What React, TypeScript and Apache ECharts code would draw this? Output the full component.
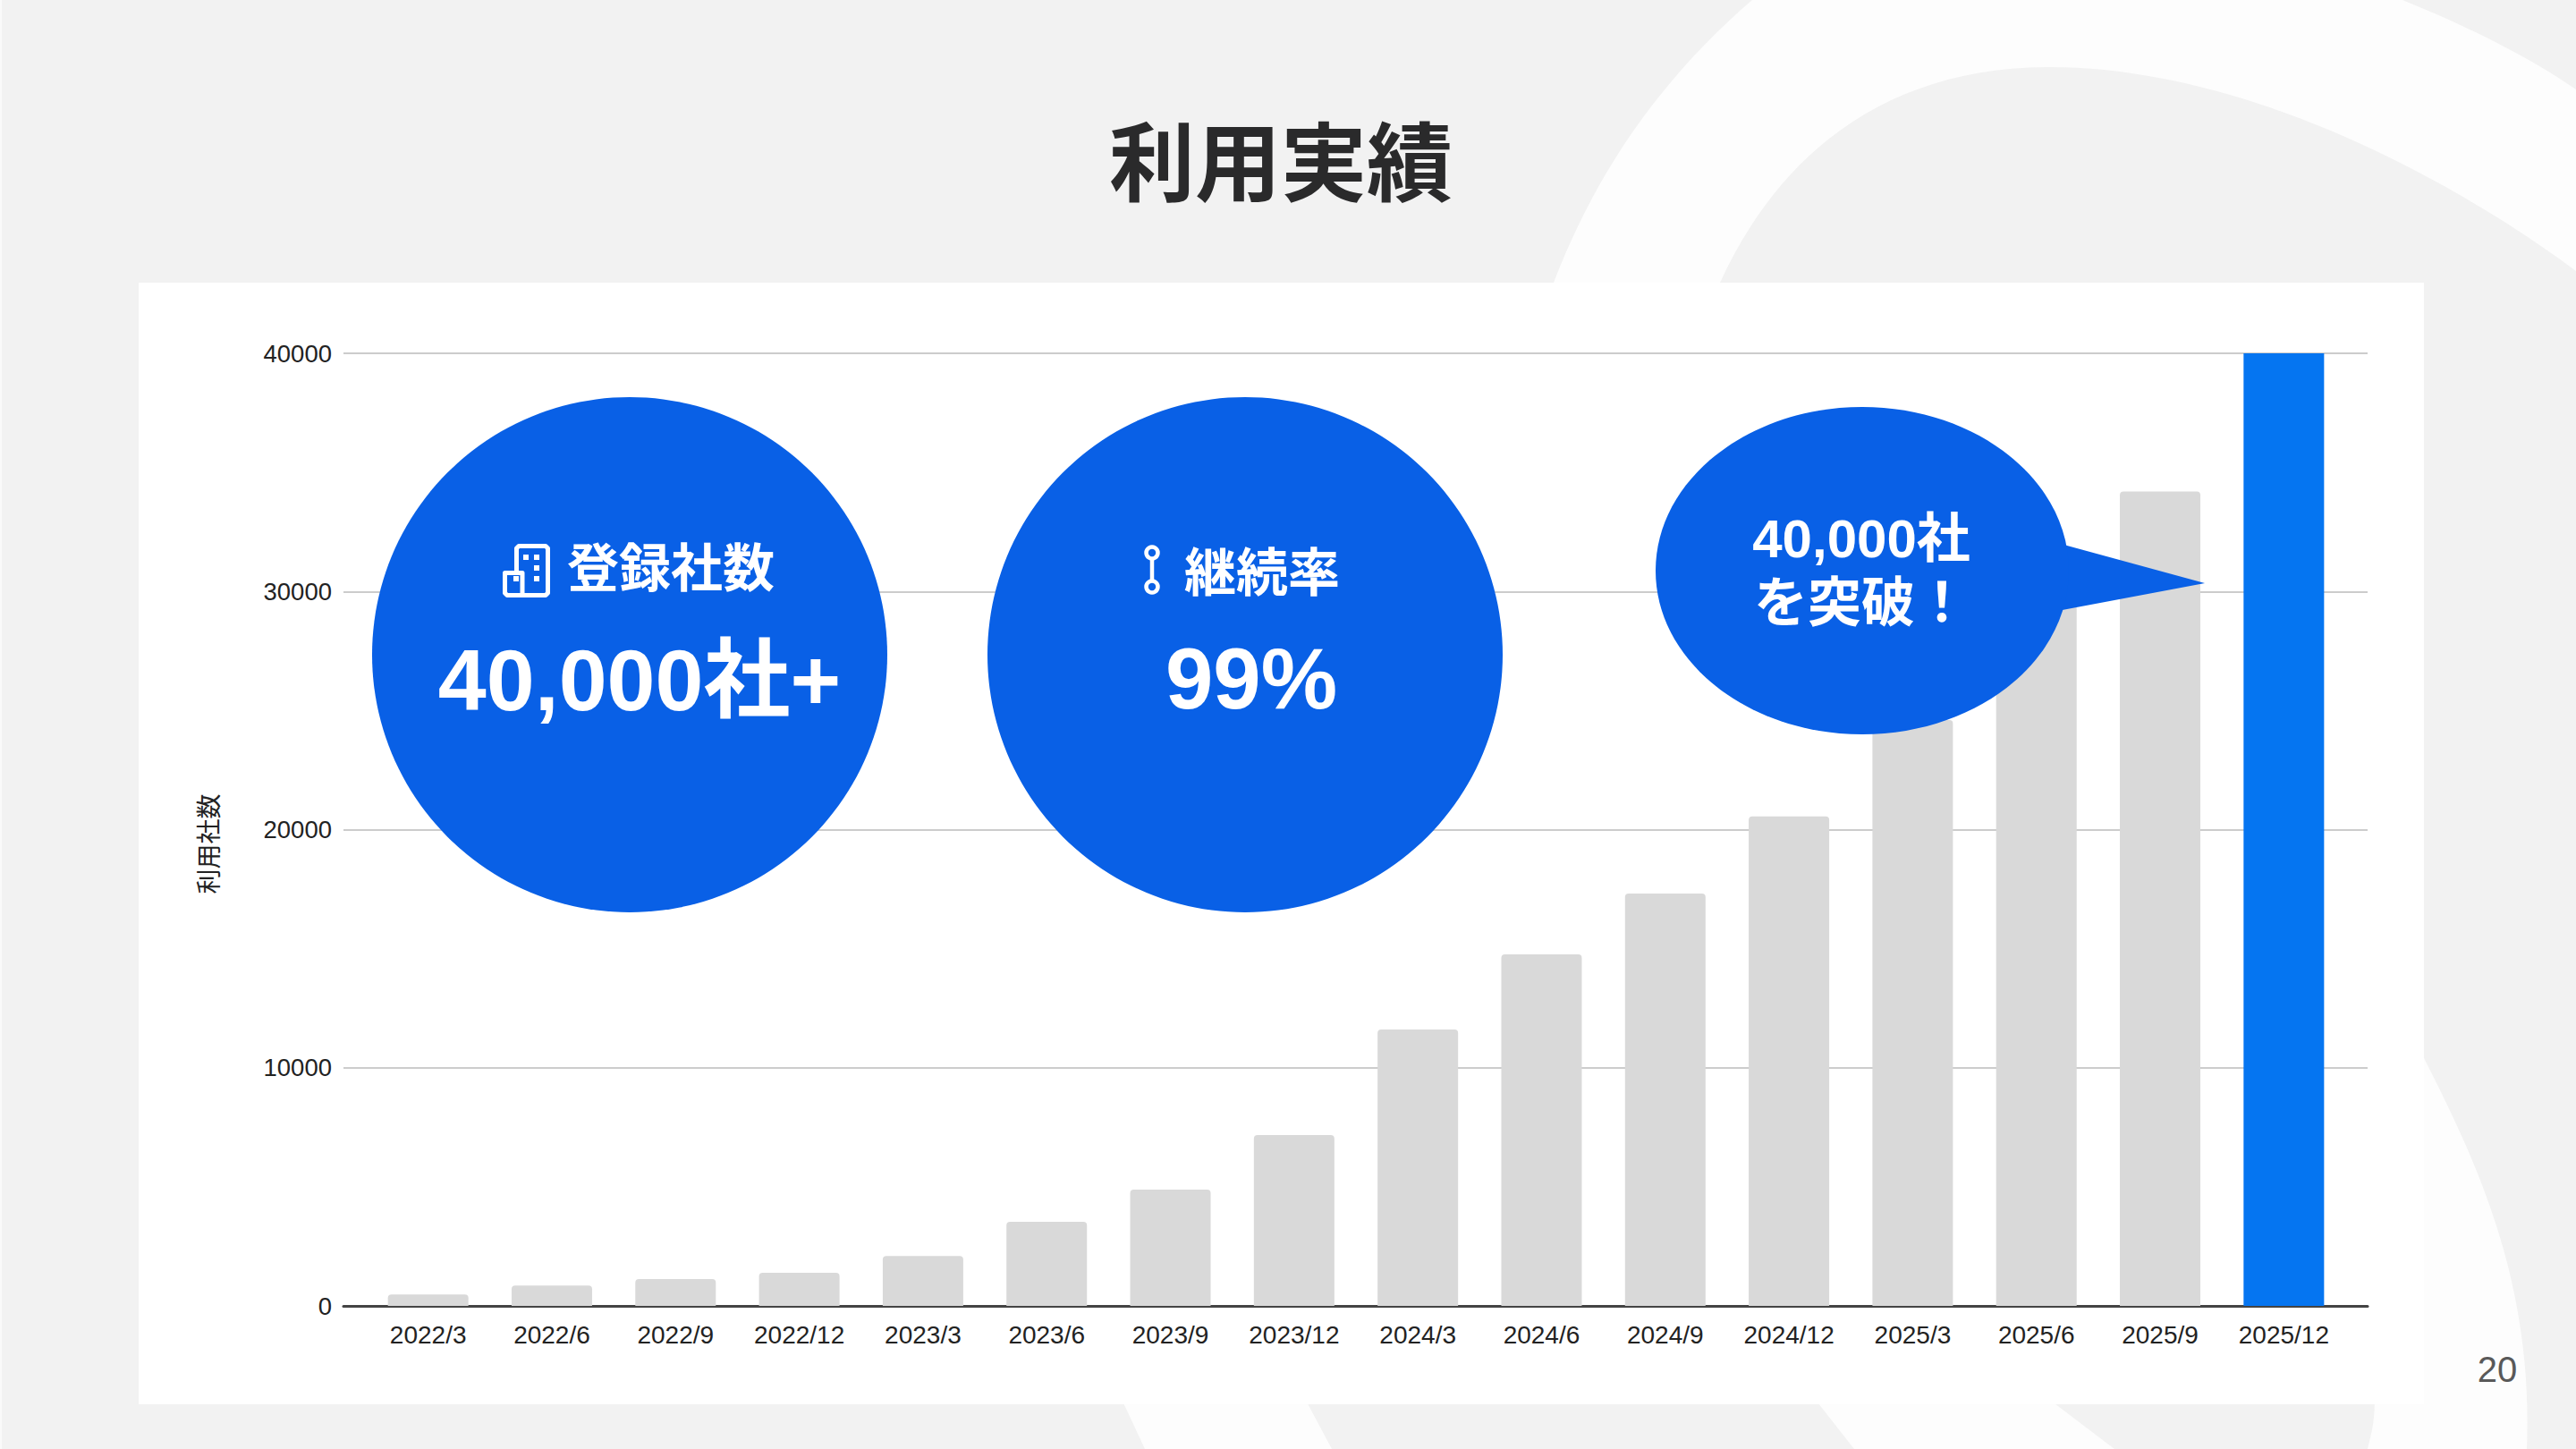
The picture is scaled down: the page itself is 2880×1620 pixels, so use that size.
import React, { useEffect, useRef } from "react";
import * as echarts from "echarts";

const categories = ["2022/3","2022/6","2022/9","2022/12","2023/3","2023/6","2023/9","2023/12","2024/3","2024/6","2024/9","2024/12","2025/3","2025/6","2025/9","2025/12"];
const companies = [480,850,1130,1390,2090,3530,4880,7170,11610,14760,17310,20550,24600,29500,34200,40000];
const yTicks = { min: 0, max: 40000, interval: 10000 };
const chartTitle = "利用実績";
const yName = "利用社数";
const badgeOneLabel = "登録社数";
const badgeOneValue = "40,000社+";
const badgeTwoLabel = "継続率";
const badgeTwoValue = "99%";
const calloutLines = ["40,000社", "を突破！"];
const pageNumber = "20";

const CJK = '"Noto Sans CJK JP", "Noto Sans", sans-serif';
const MIXED = '"Liberation Sans", "Noto Sans CJK JP", sans-serif';
const LATIN = '"Liberation Sans", Arial, sans-serif';
const BLUE = "#0960E6";
const BAR_BLUE = "#0575F1";
const SWOOSH = "#FDFDFD";

echarts.graphic.registerShape("swooshTop", echarts.graphic.extendPath(
  "M1737,316 C1785,190 1860,85 1959,0 L2686,0 C2760,30 2830,65 2880,100 L2880,303 C2700,170 2480,75 2292,75 C2110,75 1990,170 1923,316 Z", {}));
echarts.graphic.registerShape("swooshRight", echarts.graphic.extendPath(
  "M2600,1000 L2710,1183 C2775,1310 2832,1440 2825,1620 L2647,1620 C2652,1600 2655,1590 2655,1560 Z", {}));
echarts.graphic.registerShape("swooshBottomA", echarts.graphic.extendPath(
  "M1252,1560 L1457,1560 L1489,1620 L1280,1620 Z", {}));
echarts.graphic.registerShape("swooshBottomB", echarts.graphic.extendPath(
  "M2026,1560 L2285,1560 L2364,1620 L2073,1620 Z", {}));

const text = (t: string, x: number, y: number, size: number, fill = "#fff", weight: any = 700, family = CJK, extra: any = {}) => ({
  type: "text", x, y, z: 100,
  style: { text: t, fill, font: `${weight} ${size}px ${family}`, textAlign: "center", textVerticalAlign: "middle", ...extra },
});

const win = (x: number, y: number) => ({ type: "rect", z: 101, shape: { x, y, width: 6, height: 6 }, style: { fill: "#fff" } });

function buildOption() {
  return {
    animation: false,
    backgroundColor: "#F2F2F2",
    graphic: [
      { type: "rect", z: -3, shape: { x: 0, y: 0, width: 2, height: 1620 }, style: { fill: "#FAFAFA" } },
      { type: "swooshTop", z: -3, style: { fill: SWOOSH } },
      { type: "swooshRight", z: -3, style: { fill: SWOOSH } },
      { type: "swooshBottomA", z: -3, style: { fill: SWOOSH } },
      { type: "swooshBottomB", z: -3, style: { fill: SWOOSH } },
      { type: "rect", z: -2, shape: { x: 155, y: 316, width: 2555, height: 1254 }, style: { fill: "#fff" } },
      text(chartTitle, 1432, 175, 96, "#2A2A2B"),
      text(pageNumber, 2792, 1531, 40, "#595959", 400, LATIN),

      { type: "circle", z: 99, shape: { cx: 704, cy: 732, r: 288 }, style: { fill: BLUE } },
      { type: "circle", z: 99, shape: { cx: 1392, cy: 732, r: 288 }, style: { fill: BLUE } },
      { type: "polygon", z: 99, shape: { points: [[2300, 607], [2465, 652], [2295, 684]] }, style: { fill: BLUE } },
      { type: "ellipse", z: 99, shape: { cx: 2082, cy: 638, rx: 231, ry: 183 }, style: { fill: BLUE } },

      { type: "polyline", z: 101, shape: { points: [[577.5, 638], [577.5, 613], [580, 610.5], [610, 610.5], [612.5, 613], [612.5, 663], [610, 665.5], [567, 665.5], [564.5, 663], [564.5, 640.5], [584, 640.5], [584, 665.5]] }, style: { stroke: "#fff", lineWidth: 5, fill: "none", lineJoin: "round" } },
      win(585, 620), win(597, 620), win(597, 632), win(597, 644), win(574, 644),
      { type: "circle", z: 101, shape: { cx: 1288, cy: 618, r: 6.5 }, style: { stroke: "#fff", lineWidth: 4.5, fill: "none" } },
      { type: "circle", z: 101, shape: { cx: 1288, cy: 656, r: 6.5 }, style: { stroke: "#fff", lineWidth: 4.5, fill: "none" } },
      { type: "line", z: 101, shape: { x1: 1288, y1: 625, x2: 1288, y2: 649 }, style: { stroke: "#fff", lineWidth: 4.5 } },

      text(badgeOneLabel, 750, 631, 58),
      text(badgeOneValue, 715, 760, 97, "#fff", 700, MIXED),
      text(badgeTwoLabel, 1411, 636, 58),
      text(badgeTwoValue, 1399, 758, 96, "#fff", 700, MIXED),
      text(calloutLines.join("\n"), 2081, 638, 60, "#fff", 700, MIXED, { lineHeight: 72 }),
    ],
    grid: [
      { left: 384, top: 395, width: 2263, height: 1065 },
      { left: 409.5, top: 395, width: 2213, height: 1065 },
    ],
    xAxis: [
      {
        type: "category", gridIndex: 0, data: [""],
        axisLine: { show: true, lineStyle: { color: "#444", width: 3 } },
        axisTick: { show: false }, axisLabel: { show: false },
      },
      {
        type: "category", gridIndex: 1, data: categories,
        axisLine: { show: false }, axisTick: { show: false },
        axisLabel: { interval: 0, margin: 18, color: "#222", fontSize: 28, fontFamily: LATIN },
      },
    ],
    yAxis: [
      {
        type: "value", gridIndex: 0, ...yTicks,
        name: yName, nameLocation: "middle", nameGap: 138, nameRotate: 90,
        nameTextStyle: { color: "#222", fontSize: 28, fontFamily: CJK, padding: [0, 32, 0, 0] },
        axisLine: { show: false }, axisTick: { show: false },
        axisLabel: { margin: 13, color: "#222", fontSize: 27.5, fontFamily: LATIN, formatter: (v: number) => String(v) },
        splitLine: { show: true, lineStyle: { color: "#CCCCCC", width: 2 } },
      },
      {
        type: "value", gridIndex: 1, ...yTicks, show: false, splitLine: { show: false },
      },
    ],
    series: [
      {
        type: "bar", xAxisIndex: 1, yAxisIndex: 1, barWidth: 90,
        data: companies.map((v, i) => ({
          value: v,
          itemStyle: i === companies.length - 1
            ? { color: BAR_BLUE, borderRadius: 0 }
            : { color: "#D9D9D9", borderRadius: [4, 4, 0, 0] },
        })),
      },
    ],
  };
}

export default function App() {
  const ref = useRef<HTMLDivElement>(null);
  useEffect(() => {
    document.body.style.margin = "0";
    const chart = echarts.init(ref.current!, null, { renderer: "svg" });
    chart.setOption(buildOption() as any);
    return () => chart.dispose();
  }, []);
  return <div ref={ref} style={{ position: "absolute", left: 0, top: 0, width: 2880, height: 1620 }} />;
}
